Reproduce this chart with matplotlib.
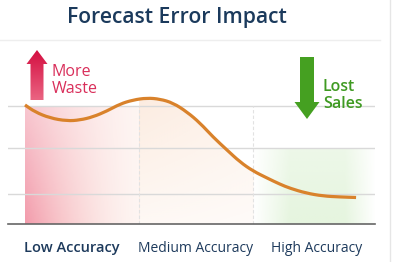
import matplotlib.pyplot as plt
import numpy as np
from matplotlib.patches import FancyArrow, Polygon, PathPatch
from matplotlib.path import Path
from matplotlib.lines import Line2D

plt.rcParams['font.family'] = ['Open Sans', 'DejaVu Sans']

# accuracy bands along x (0-1 low, 1-2 medium, 2-3 high)
categories = ['Low Accuracy', 'Medium Accuracy', 'High Accuracy']
tick_pos = [0.41, 1.5, 2.56]

# forecast error impact curve (0-100 scale)
curve_x = [0.0, 0.088, 0.219, 0.368, 0.482, 0.596, 0.719, 0.833, 0.947,
           1.070, 1.184, 1.298, 1.421, 1.535, 1.649, 1.772, 1.886, 2.0, 2.123,
           2.237, 2.325, 2.465, 2.614, 2.763, 2.904]
curve_y = [64.7, 60.9, 57.6, 56.0, 56.5, 58.2, 61.4, 65.2, 67.4,
           68.5, 67.9, 65.8, 60.9, 54.9, 47.3, 40.2, 33.7, 28.8, 25.0,
           21.6, 19.4, 16.8, 15.2, 14.7, 14.4]
grid_levels = [16.3, 41.3, 64.1]
low_top = 64.1
green_top = 41.3

W, H = 394, 262
fig = plt.figure(figsize=(W / 100, H / 100), dpi=100)
ax = fig.add_axes([8 / W, (H - 224) / H, (375 - 8) / W, (224 - 40) / H])
ax.set_xlim(-0.149, 3.07)
ax.set_ylim(0, 100)

# low accuracy band: red fading to the right and upwards
nx, ny = 120, 80
u = np.linspace(0, 1, nx)[None, :]
v = np.linspace(0, 1, ny)[:, None]
base0 = np.array([232, 70, 100]) / 255
base1 = np.array([245, 175, 150]) / 255
img = np.zeros((ny, nx, 4))
for c in range(3):
    img[..., c] = base0[c] * (1 - u) + base1[c] * u
img[..., 3] = 0.12 + 0.42 * (1 - u) ** 1.3 * (1 - 0.55 * v)
ax.imshow(img, extent=[0, 1, 0, low_top], origin='lower', aspect='auto',
          interpolation='bilinear', zorder=1)

# smooth path through the read points (quadratic segments via midpoints)
pts = list(zip(curve_x, curve_y))
verts = [pts[0]]
codes = [Path.MOVETO]
verts.append(((pts[0][0] + pts[1][0]) / 2, (pts[0][1] + pts[1][1]) / 2))
codes.append(Path.LINETO)
for i in range(1, len(pts) - 1):
    mid = ((pts[i][0] + pts[i + 1][0]) / 2, (pts[i][1] + pts[i + 1][1]) / 2)
    verts += [pts[i], mid]
    codes += [Path.CURVE3, Path.CURVE3]
verts.append(pts[-1])
codes.append(Path.LINETO)
curve_path = Path(verts, codes)

# medium band: peach under the curve
img2 = np.zeros((ny, nx, 4))
peach = np.array([246, 190, 150]) / 255
for c in range(3):
    img2[..., c] = peach[c]
img2[..., 3] = (0.10 + 0.20 * v) * (1 - 0.35 * u)
poly = Polygon(pts + [(curve_x[-1], 0), (curve_x[0], 0)],
               closed=True, facecolor='none', edgecolor='none')
ax.add_patch(poly)
im2 = ax.imshow(img2, extent=[1, 2, 0, 72], origin='lower', aspect='auto',
                interpolation='bilinear', zorder=1)
im2.set_clip_path(poly)

# high band: soft green glow
img3 = np.zeros((ny, nx, 4))
green = np.array([180, 225, 160]) / 255
for c in range(3):
    img3[..., c] = green[c]
edge = np.clip(u / 0.3, 0, 1) * np.clip((1 - u) / 0.25, 0, 1)
img3[..., 3] = 0.34 * edge * (1 - 0.3 * v)
ax.imshow(img3, extent=[2, 3.08, 0, green_top], origin='lower', aspect='auto',
          interpolation='bilinear', zorder=1)

for g in grid_levels:
    ax.axhline(g, color='#d9d9d9', lw=1.0, zorder=1.5)
for xv in [1, 2]:
    ax.plot([xv, xv], [0, low_top], color='#e2e2e2', lw=0.8, ls=(0, (3, 2)), zorder=1.5)

ax.add_patch(PathPatch(curve_path, facecolor='none', edgecolor='#d9822b', lw=2.3,
                       capstyle='butt', joinstyle='round', zorder=3))

for s in ['top', 'right', 'left']:
    ax.spines[s].set_visible(False)
ax.spines['bottom'].set_color('#666666')
ax.spines['bottom'].set_linewidth(1.2)
ax.set_yticks([])
ax.set_xticks(tick_pos)
ax.set_xticklabels(categories, color='#1d3a5c', fontsize=10)
ax.get_xticklabels()[0].set_fontweight('semibold')
ax.get_xticklabels()[0].set_fontsize(10.5)
ax.tick_params(axis='x', length=0, pad=12.5)
ax.set_xlim(-0.149, 3.07)
ax.set_ylim(0, 100)

# overlay in pixel coordinates for title, separators and arrows
ov = fig.add_axes([0, 0, 1, 1], zorder=5)
ov.axis('off')
ov.patch.set_alpha(0)

ov.text(177, 23, 'Forecast Error Impact', ha='center', va='baseline',
        fontsize=15.2, fontweight='semibold', color='#1b3a5c')
ov.add_line(Line2D([0, 380], [40, 40], color='#eeeeee', lw=1.0))
ov.add_line(Line2D([390, 390], [0, H], color='#e6e6e6', lw=1.0))

red_arrow = FancyArrow(37, 100, 0, -50, width=13, head_width=21, head_length=14,
                       length_includes_head=True, facecolor='none', edgecolor='none')
ov.add_patch(red_arrow)
grad = np.linspace(0, 1, 60)[:, None]
top_c = np.array([212, 15, 65]) / 255
bot_c = np.array([234, 100, 130]) / 255
rimg = np.zeros((60, 2, 4))
for c in range(3):
    rimg[..., c] = top_c[c] * (1 - grad) + bot_c[c] * grad
rimg[..., 3] = 1
rim = ov.imshow(rimg, extent=[26, 48, 100, 50], origin='upper', aspect='auto',
                interpolation='bilinear')
rim.set_clip_path(red_arrow)
ov.set_xlim(0, W)
ov.set_ylim(H, 0)

green_arrow = FancyArrow(307, 57, 0, 62, width=14, head_width=25, head_length=17,
                         length_includes_head=True, facecolor='#45a021', edgecolor='none')
ov.add_patch(green_arrow)

ov.text(52, 93, 'More\nWaste', ha='left', va='baseline', fontsize=11.5,
        color='#d92e5a', linespacing=1.1)
ov.text(323, 108, 'Lost\nSales', ha='left', va='baseline', fontsize=11.5,
        fontweight='semibold', color='#3f9a22', linespacing=1.1)

fig.savefig('out.png', dpi=100)
